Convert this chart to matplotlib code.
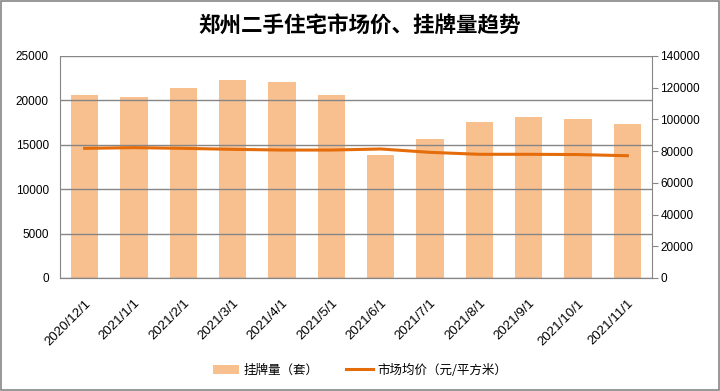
import matplotlib.pyplot as plt
from matplotlib.patches import Rectangle

plt.rcParams['font.family'] = ['Liberation Sans', 'Noto Sans CJK SC', 'DejaVu Sans']

# 数据
months = ['2020/12/1', '2021/1/1', '2021/2/1', '2021/3/1', '2021/4/1', '2021/5/1',
          '2021/6/1', '2021/7/1', '2021/8/1', '2021/9/1', '2021/10/1', '2021/11/1']
listings = [115400, 114100, 119800, 124900, 123600, 115400,
            77600, 87700, 98400, 101500, 100300, 97100]   # 挂牌量(套)
price = [14600, 14680, 14600, 14490, 14410, 14410,
         14530, 14150, 13930, 13930, 13900, 13770]          # 市场均价(元/平方米)

bar_color = '#F9C08F'
line_color = '#E46C0A'
grey = '#868686'

fig = plt.figure(figsize=(7.2, 3.91), dpi=100)
ax = fig.add_axes([60 / 720, 1 - 278 / 391, 592 / 720, 222 / 391])
ax2 = ax.twinx()

x = list(range(len(months)))
ax2.bar(x, listings, width=0.56, color=bar_color, label='挂牌量（套）', zorder=2)
ax.plot(x, price, color=line_color, lw=2.2, label='市场均价（元/平方米）', zorder=3)

# 折线放到柱子前面
ax.set_zorder(ax2.get_zorder() + 1)
ax.patch.set_visible(False)

ax.set_xlim(-0.5, len(months) - 0.5)
ax.set_ylim(0, 25000)
ax.set_yticks(range(0, 25001, 5000))
ax2.set_ylim(0, 140000)
ax2.set_yticks(range(0, 140001, 20000))
ax.yaxis.grid(True, color=grey, lw=1)
ax.set_axisbelow(True)

ax.set_xticks(x)
ax.set_xticklabels(months, rotation=45, ha='right', rotation_mode='anchor', fontsize=9.5)
ax.tick_params(axis='x', length=0, pad=14)
ax.tick_params(axis='y', length=0, labelsize=8.5, pad=8)
ax2.tick_params(axis='y', length=4, color=grey, labelsize=8.5, pad=2)

for a in (ax, ax2):
    a.spines['top'].set_visible(False)
    for s in ('left', 'right', 'bottom'):
        a.spines[s].set_color(grey)
ax2.spines['left'].set_visible(False)
ax.spines['right'].set_visible(False)

fig.text(0.5, 1 - 25 / 391, '郑州二手住宅市场价、挂牌量趋势', ha='center', va='center',
         fontsize=15.5, fontweight='bold', family=['Noto Sans CJK SC', 'DejaVu Sans'])

h1, l1 = ax2.get_legend_handles_labels()
h2, l2 = ax.get_legend_handles_labels()
fig.legend(h1 + h2, l1 + l2, loc='center', bbox_to_anchor=(0.5, 1 - 370 / 391),
           ncol=2, frameon=False, prop={'family': ['Noto Sans CJK SC'], 'size': 9},
           handlelength=2.1, handleheight=0.7, handletextpad=0.4, columnspacing=2.2)

# 外边框
fig.patches.append(Rectangle((0.002, 0.002), 0.996, 0.995, transform=fig.transFigure,
                             fill=False, edgecolor=grey, lw=1.2))

fig.savefig('out.png', dpi=100)
